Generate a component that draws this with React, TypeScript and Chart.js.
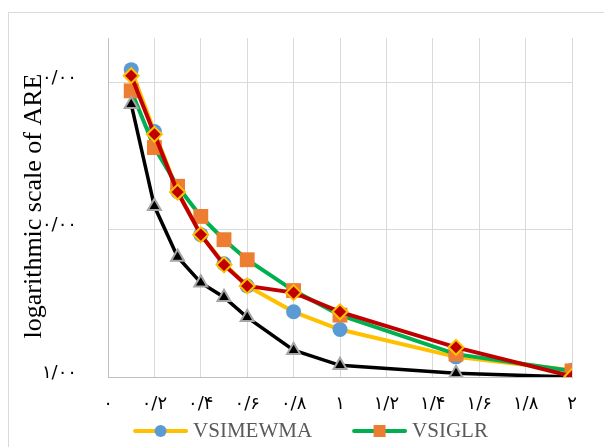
import React, { useEffect, useRef } from "react";
import { Chart, registerables } from "chart.js";

Chart.register(...registerables);

// ---- data ----
const xValues = [0.1, 0.2, 0.3, 0.4, 0.5, 0.6, 0.8, 1.0, 1.5, 2.0];
const vsimewma = [122, 46.3, 18.2, 9.25, 5.87, 4.15, 2.77, 2.1, 1.37, 1.11];
const vsiglr = [87.6, 36.1, 19.7, 12.3, 8.55, 6.25, 3.86, 2.63, 1.43, 1.1];
const seriesRed = [111, 44.4, 18.0, 9.25, 5.77, 4.15, 3.74, 2.77, 1.59, 1.01];
const seriesBlack = [71.1, 14.4, 6.52, 4.37, 3.48, 2.54, 1.52, 1.2, 1.06, 1.0];

const seriesNames = ["VSIMEWMA", "VSIGLR", "Series 3", "Series 4"];

const xTickValues = [0, 0.2, 0.4, 0.6, 0.8, 1, 1.2, 1.4, 1.6, 1.8, 2];
const xTickLabels = ["۰", "۰/۲", "۰/۴", "۰/۶", "۰/۸", "۱", "۱/۲", "۱/۴", "۱/۶", "۱/۸", "۲"];
const yTickValues = [1, 10, 100];
const yTickLabels = ["۱/۰۰", "۱۰/۰۰", "۱۰۰/۰۰"];
const yTitle = "logarithmic scale of ARE";

const toPoints = (ys: number[]) => xValues.map((x, i) => ({ x, y: ys[i] }));

const decorPlugin = {
  id: "decor",
  beforeDraw(chart: any) {
    const ctx = chart.ctx;
    ctx.save();
    ctx.fillStyle = "#ffffff";
    ctx.fillRect(0, 0, chart.width, chart.height);
    ctx.strokeStyle = "#D9D9D9";
    ctx.lineWidth = 1;
    ctx.strokeRect(8.5, 12.5, chart.width + 20, chart.height + 20);
    ctx.restore();
  },
  afterDraw(chart: any) {
    const ctx = chart.ctx;
    const yScale = chart.scales.y;
    // y tick labels
    ctx.save();
    ctx.font = "18px 'DejaVu Sans'";
    ctx.fillStyle = "#000000";
    ctx.textAlign = "right";
    ctx.textBaseline = "middle";
    yTickValues.forEach((v, i) => {
      const py = yScale.getPixelForValue(v);
      ctx.fillText(yTickLabels[i], chart.chartArea.left - 31, py - 4);
    });
    ctx.restore();

    // axis title with white backing
    ctx.save();
    ctx.fillStyle = "#ffffff";
    ctx.fillRect(16, 68, 27, 276);
    ctx.translate(41, 206);
    ctx.rotate(-Math.PI / 2);
    ctx.font = "26px 'Liberation Serif'";
    ctx.textAlign = "center";
    ctx.textBaseline = "alphabetic";
    ctx.fillStyle = "#000000";
    ctx.fillText(yTitle, 0, 0);
    ctx.restore();

    // legend (first row)
    ctx.save();
    ctx.font = "21px 'Liberation Serif'";
    const lineLen = 53;
    const gap = 6;
    const itemGap = 41;
    const items = [
      { label: seriesNames[0], line: "#FFC000", marker: "circle", color: "#5B9BD5" },
      { label: seriesNames[1], line: "#00B050", marker: "square", color: "#ED7D31" },
    ];
    const widths = items.map((it) => lineLen + gap + ctx.measureText(it.label).width);
    const total = widths.reduce((a, b) => a + b, 0) + itemGap * (items.length - 1);
    let x = 311 - total / 2;
    const y = 431;
    items.forEach((it, i) => {
      ctx.strokeStyle = it.line;
      ctx.lineWidth = 4;
      ctx.lineCap = "round";
      ctx.beginPath();
      ctx.moveTo(x + 1, y);
      ctx.lineTo(x + lineLen - 1, y);
      ctx.stroke();
      ctx.fillStyle = it.color;
      const cx = x + lineLen / 2;
      if (it.marker === "circle") {
        ctx.beginPath();
        ctx.arc(cx, y, 6, 0, Math.PI * 2);
        ctx.fill();
      } else {
        ctx.fillRect(cx - 6, y - 6, 12, 12);
      }
      ctx.fillStyle = "#595959";
      ctx.textAlign = "left";
      ctx.textBaseline = "middle";
      ctx.fillText(it.label, x + lineLen + gap, y);
      x += widths[i] + itemGap;
    });
    ctx.restore();
  },
};

export default function App() {
  const canvasRef = useRef<HTMLCanvasElement | null>(null);

  useEffect(() => {
    if (!canvasRef.current) return;
    const chart = new Chart(canvasRef.current, {
      type: "line",
      data: {
        datasets: [
          {
            label: seriesNames[0],
            data: toPoints(vsimewma),
            borderColor: "#FFC000",
            borderWidth: 4,
            pointStyle: "circle",
            pointRadius: 7.5,
            pointBackgroundColor: "#5B9BD5",
            pointBorderColor: "#5B9BD5",
            pointBorderWidth: 0,
            order: 4,
          },
          {
            label: seriesNames[1],
            data: toPoints(vsiglr),
            borderColor: "#00B050",
            borderWidth: 4,
            pointStyle: "rect",
            pointRadius: 10.5,
            pointBackgroundColor: "#ED7D31",
            pointBorderColor: "#ED7D31",
            pointBorderWidth: 0,
            order: 3,
          },
          {
            label: seriesNames[3],
            data: toPoints(seriesBlack),
            borderColor: "#000000",
            borderWidth: 3.5,
            pointStyle: "triangle",
            pointRadius: 7.5,
            pointBackgroundColor: "#000000",
            pointBorderColor: "#A5A5A5",
            pointBorderWidth: 2,
            order: 2,
          },
          {
            label: seriesNames[2],
            data: toPoints(seriesRed),
            borderColor: "#C00000",
            borderWidth: 4,
            pointStyle: "rectRot",
            pointRadius: 7.5,
            pointBackgroundColor: "#C00000",
            pointBorderColor: "#FFC000",
            pointBorderWidth: 2,
            order: 1,
          },
        ],
      },
      options: {
        responsive: false,
        animation: false,
        devicePixelRatio: 1,
        layout: { padding: { top: 38, left: 0, right: 32, bottom: 0 } },
        plugins: {
          legend: { display: false },
          tooltip: { enabled: false },
          title: { display: false },
        },
        elements: { line: { tension: 0 } },
        scales: {
          x: {
            type: "linear",
            min: 0,
            max: 2,
            afterBuildTicks: (scale: any) => {
              scale.ticks = xTickValues.map((v) => ({ value: v }));
            },
            afterFit: (scale: any) => {
              scale.height = 70;
            },
            grid: { color: "#D9D9D9", lineWidth: 1, drawTicks: false },
            border: { color: "#BFBFBF", width: 1 },
            ticks: {
              autoSkip: false,
              maxRotation: 0,
              padding: 17,
              color: "#000000",
              font: { family: "'DejaVu Sans'", size: 18 },
              callback: (_v: any, i: number) => xTickLabels[i],
            },
          },
          y: {
            type: "logarithmic",
            min: 1,
            max: 200,
            afterBuildTicks: (scale: any) => {
              scale.ticks = yTickValues.map((v) => ({ value: v }));
            },
            afterFit: (scale: any) => {
              scale.width = 108;
            },
            grid: { color: "#D9D9D9", lineWidth: 1, drawTicks: false },
            border: { color: "#BFBFBF", width: 1 },
            ticks: { display: false },
          },
        },
      },
      plugins: [decorPlugin],
    } as any);
    return () => chart.destroy();
  }, []);

  return (
    <div style={{ position: "fixed", left: 0, top: 0, width: 604, height: 447, background: "#fff" }}>
      <canvas ref={canvasRef} width={604} height={447} style={{ width: 604, height: 447, display: "block" }} />
    </div>
  );
}
